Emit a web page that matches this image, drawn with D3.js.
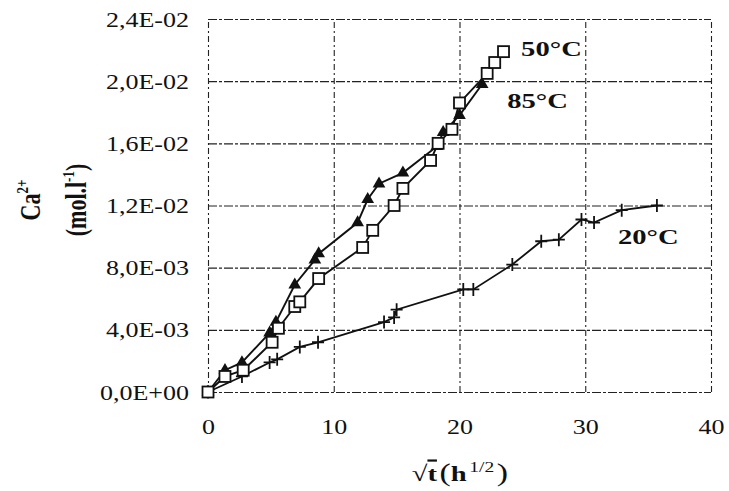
<!DOCTYPE html>
<html>
<head>
<meta charset="utf-8">
<script src="https://cdn.jsdelivr.net/npm/d3@7"></script>
<style>
  body { margin: 0; background: #fff; }
  svg { display: block; }
  svg text { font-family: "Liberation Serif", "Times New Roman", serif; }
</style>
</head>
<body>
<svg id="chart" width="729" height="491"></svg>
<script>
// axis ticks
const xTicks = [0, 10, 20, 30, 40];
const yTicks = [0, 0.004, 0.008, 0.012, 0.016, 0.020, 0.024];
const yTickLabels = ["0,0E+00", "4,0E-03", "8,0E-03", "1,2E-02", "1,6E-02", "2,0E-02", "2,4E-02"];

// 20°C  (+ markers)
const t20 = [0, 2.7, 4.9, 5.5, 7.3, 8.75, 14.0, 14.8, 15.0, 20.3, 21.1, 24.2, 26.5, 27.9, 29.7, 30.7, 32.9, 35.7];
const ca20 = [0, 0.0010, 0.0019, 0.0021, 0.0029, 0.0032, 0.0045, 0.0048, 0.0053, 0.0066, 0.0066, 0.0082, 0.0097, 0.0098, 0.0111, 0.0109, 0.0117, 0.0120];

// 85°C  (filled triangles)
const t85 = [0, 1.35, 2.7, 4.9, 5.4, 6.9, 8.5, 8.8, 11.9, 12.7, 13.6, 15.5, 18.2, 18.7, 20.0, 21.8];
const ca85 = [0, 0.0014, 0.0019, 0.0038, 0.0045, 0.0069, 0.0085, 0.0089, 0.0109, 0.0124, 0.0134, 0.0141, 0.0158, 0.0167, 0.0178, 0.0198];

// 50°C  (open squares)
const t50 = [0, 1.35, 2.8, 5.1, 5.6, 6.9, 7.3, 8.8, 12.3, 13.1, 14.8, 15.5, 17.7, 18.3, 19.4, 20.0, 22.2, 22.8, 23.5];
const ca50 = [0, 0.0010, 0.0014, 0.0032, 0.0041, 0.0055, 0.0058, 0.0073, 0.0093, 0.0104, 0.0120, 0.0131, 0.0149, 0.0160, 0.0169, 0.0186, 0.0205, 0.0212, 0.0219];

const MARGIN = { top: 19, right: 18, bottom: 99, left: 208 };
const W = 729, H = 491;
const SX = 1.3; // the scan is stretched horizontally
const FONT = '"Liberation Serif", "Times New Roman", serif';

const svg = d3.select("#chart");
const width = W - MARGIN.left - MARGIN.right;
const height = H - MARGIN.top - MARGIN.bottom;

const x = d3.scaleLinear().domain([0, 40]).range([MARGIN.left, MARGIN.left + width]);
const y = d3.scaleLinear().domain([0, 0.024]).range([MARGIN.top + height, MARGIN.top]);

// grid + labels (y)
const gy = svg.append("g")
  .attr("transform", "translate(" + MARGIN.left + ",0)")
  .call(d3.axisLeft(y).tickValues(yTicks).tickSize(-width).tickPadding(0)
    .tickFormat((d, i) => yTickLabels[i]))
  .attr("font-family", FONT);
gy.select(".domain").remove();
gy.selectAll(".tick line")
  .attr("stroke", "#222").attr("stroke-width", 1.1)
  .attr("stroke-dasharray", "9,2,3,2");
gy.selectAll(".tick text")
  .attr("x", -19 / SX)
  .attr("dy", "0.35em")
  .attr("transform", "scale(" + SX + ",1)")
  .style("font-size", "20px")
  .attr("fill", "#111");

// grid + labels (x)
const gx = svg.append("g")
  .attr("transform", "translate(0," + (MARGIN.top + height) + ")")
  .call(d3.axisBottom(x).tickValues(xTicks).tickSize(-height).tickPadding(0))
  .attr("font-family", FONT);
gx.select(".domain").remove();
gx.selectAll(".tick line")
  .attr("stroke", "#222").attr("stroke-width", 1.1)
  .attr("stroke-dasharray", "6,3,2,3");
gx.selectAll(".tick text")
  .attr("y", 42).attr("dy", 0)
  .attr("transform", "scale(" + SX + ",1)")
  .style("font-size", "20px")
  .attr("fill", "#111");

// series
function series(tv, cv) {
  return tv.map((t, i) => ({ t: t, c: cv[i] }));
}
const line = d3.line().x(d => x(d.t)).y(d => y(d.c));

const s20 = series(t20, ca20);
const s85 = series(t85, ca85);
const s50 = series(t50, ca50);

svg.append("path").datum(s20).attr("d", line)
  .attr("fill", "none").attr("stroke", "#111").attr("stroke-width", 1.8);
svg.append("g").selectAll("path").data(s20).enter().append("path")
  .attr("transform", d => "translate(" + x(d.t) + "," + y(d.c) + ")")
  .attr("d", "M-6,0H6M0,-6.5V6.5")
  .attr("stroke", "#111").attr("stroke-width", 1.8).attr("fill", "none");

svg.append("path").datum(s85).attr("d", line)
  .attr("fill", "none").attr("stroke", "#111").attr("stroke-width", 1.9);
svg.append("g").selectAll("path").data(s85).enter().append("path")
  .attr("transform", d => "translate(" + x(d.t) + "," + y(d.c) + ")")
  .attr("d", d3.symbol().type(d3.symbolTriangle).size(70))
  .attr("fill", "#111");

svg.append("path").datum(s50).attr("d", line)
  .attr("fill", "none").attr("stroke", "#111").attr("stroke-width", 1.9);
svg.append("g").selectAll("rect").data(s50).enter().append("rect")
  .attr("x", d => x(d.t) - 5.5).attr("y", d => y(d.c) - 5.5)
  .attr("width", 11).attr("height", 11)
  .attr("fill", "#fff").attr("stroke", "#111").attr("stroke-width", 1.8);

// series labels
function label(px, py, txt) {
  svg.append("text")
    .attr("transform", "translate(" + px + "," + py + ") scale(" + SX + ",1)")
    .style("font-size", "22px").style("font-weight", "bold")
    .attr("fill", "#111")
    .text(txt);
}
label(x(24.9), y(0.0216), "50°C");
label(x(23.8), y(0.0183), "85°C");
label(x(32.6), y(0.0095), "20°C");

// y title
const yt = svg.append("text")
  .attr("transform", "translate(40,200) scale(" + SX + ",1) rotate(-90)")
  .attr("text-anchor", "middle")
  .style("font-weight", "bold").attr("fill", "#111");
yt.append("tspan").style("font-size", "22px").text("Ca");
yt.append("tspan").style("font-size", "13px").attr("dy", "-9").text("2+");

const yt2 = svg.append("text")
  .attr("transform", "translate(86,200) scale(" + SX + ",1) rotate(-90)")
  .attr("text-anchor", "middle")
  .style("font-weight", "bold").attr("fill", "#111");
yt2.append("tspan").style("font-size", "22px").text("(mol.l");
yt2.append("tspan").style("font-size", "13px").attr("dy", "-9").text("-1");
yt2.append("tspan").style("font-size", "22px").attr("dy", "9").text(")");

// x title
const xt = svg.append("text")
  .attr("transform", "translate(" + x(16.2) + ",481) scale(" + SX + ",1)")
  .attr("fill", "#111");
xt.append("tspan").style("font-size", "22px").text("√");
xt.append("tspan").style("font-size", "22px").style("font-weight", "bold")
  .style("text-decoration", "overline").text("t");
xt.append("tspan").style("font-size", "26px").attr("dx", "2").text("(");
xt.append("tspan").style("font-size", "22px").style("font-weight", "bold").text("h");
xt.append("tspan").style("font-size", "15px").attr("dx", "2").attr("dy", "-9").text("1/2");
xt.append("tspan").style("font-size", "26px").attr("dx", "2").attr("dy", "9").text(")");
</script>
</body>
</html>
